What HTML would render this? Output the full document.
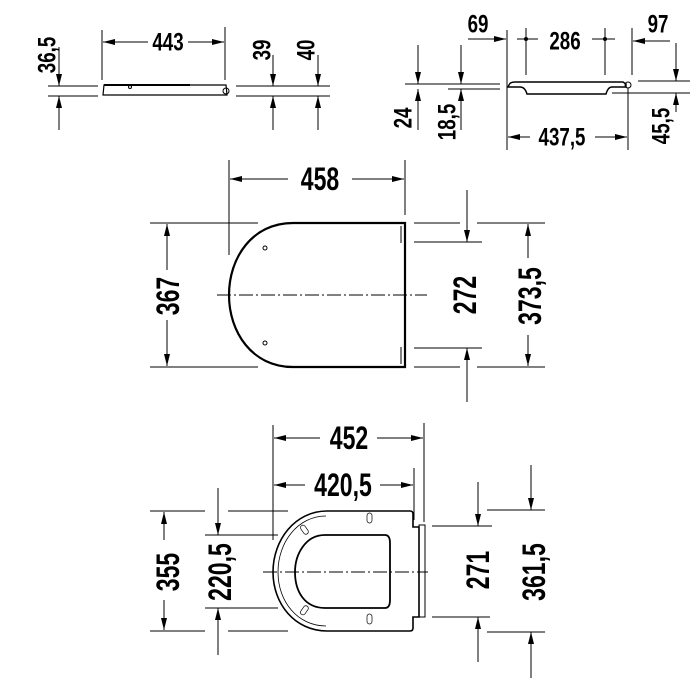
<!DOCTYPE html>
<html><head><meta charset="utf-8"><style>
html,body{margin:0;padding:0;background:#fff}
svg{display:block}
text{font-family:"Liberation Sans",sans-serif;font-weight:bold;fill:#000;text-anchor:middle;dominant-baseline:central}
</style></head><body>
<svg width="700" height="700" viewBox="0 0 700 700" xmlns="http://www.w3.org/2000/svg">
<defs>
<marker id="a" viewBox="0 0 12 6" refX="12" refY="3" markerWidth="12" markerHeight="6" markerUnits="userSpaceOnUse" orient="auto"><path d="M0,0 L12,3 L0,6 Z" fill="#000"/></marker>
</defs>
<g stroke="#000" stroke-width="1" fill="none">
<line x1="48" y1="86" x2="98" y2="86"/><line x1="48" y1="96" x2="98" y2="96"/>
<line x1="59" y1="47" x2="59" y2="86" marker-end="url(#a)"/><line x1="59" y1="130" x2="59" y2="96" marker-end="url(#a)"/>
<line x1="102" y1="30" x2="102" y2="80"/><line x1="225" y1="27" x2="225" y2="80"/>
<line x1="148" y1="42" x2="103" y2="42" marker-end="url(#a)"/><line x1="188" y1="42" x2="224" y2="42" marker-end="url(#a)"/>
<path d="M104,85 L226,85 L227,95 L103,95 Z" stroke-width="1.2"/>
<line x1="104" y1="85" x2="190" y2="85" stroke-width="2"/>
<circle cx="226" cy="91" r="3"/><circle cx="130" cy="87" r="1.5"/>
<line x1="236" y1="86" x2="330" y2="86"/><line x1="236" y1="96" x2="330" y2="96"/>
<line x1="273" y1="55" x2="273" y2="86" marker-end="url(#a)"/><line x1="273" y1="130" x2="273" y2="96" marker-end="url(#a)"/>
<line x1="318" y1="55" x2="318" y2="86" marker-end="url(#a)"/><line x1="318" y1="130" x2="318" y2="96" marker-end="url(#a)"/>
<line x1="507" y1="30" x2="507" y2="150"/><line x1="526" y1="28" x2="526" y2="75"/><line x1="605" y1="28" x2="605" y2="75"/>
<line x1="632" y1="28" x2="632" y2="75"/><line x1="628" y1="88" x2="628" y2="150"/>
<line x1="468" y1="39" x2="506" y2="39" marker-end="url(#a)"/>
<line x1="517" y1="39" x2="538" y2="39"/><line x1="592" y1="39" x2="615" y2="39"/>
<circle cx="526" cy="39" r="1.5" fill="#000"/><circle cx="605" cy="39" r="1.5" fill="#000"/>
<line x1="670" y1="41" x2="633" y2="41" marker-end="url(#a)"/>
<line x1="405" y1="84" x2="500" y2="84"/><line x1="448" y1="89" x2="500" y2="89"/>
<path d="M509,85 Q510,82 515,82 L623,82 L626,84 L626,87 L612,87 Q608,87 606,94 L527,94 Q525,87 520,87 L508,87 Z" stroke-width="1.4"/>
<circle cx="628" cy="85" r="3"/>
<line x1="418" y1="45" x2="418" y2="84" marker-end="url(#a)"/><line x1="418" y1="130" x2="418" y2="89" marker-end="url(#a)"/>
<line x1="461" y1="45" x2="461" y2="84" marker-end="url(#a)"/><line x1="461" y1="130" x2="461" y2="89" marker-end="url(#a)"/>
<line x1="638" y1="81" x2="690" y2="81"/><line x1="612" y1="93" x2="690" y2="93"/>
<line x1="676" y1="43" x2="676" y2="81" marker-end="url(#a)"/><line x1="676" y1="112" x2="676" y2="93" marker-end="url(#a)"/>
<line x1="530" y1="137" x2="508" y2="137" marker-end="url(#a)"/><line x1="595" y1="137" x2="627" y2="137" marker-end="url(#a)"/>
<line x1="229" y1="160" x2="229" y2="255"/><line x1="405" y1="160" x2="405" y2="215"/>
<line x1="288" y1="179" x2="230" y2="179" marker-end="url(#a)"/><line x1="352" y1="179" x2="404" y2="179" marker-end="url(#a)"/>
<path d="M405,223 L293,223 C252,223 229,258 229,295 C229,332 252,367 293,367 L405,367 Z" stroke-width="2.2"/>
<line x1="401" y1="226" x2="401" y2="243"/><line x1="401" y1="347" x2="401" y2="364"/>
<circle cx="265" cy="248" r="2"/><circle cx="265" cy="343" r="2"/>
<line x1="217" y1="295" x2="427" y2="295" stroke-dasharray="14,3,2,3"/>
<line x1="150" y1="223" x2="258" y2="223"/><line x1="150" y1="367" x2="258" y2="367"/>
<line x1="167" y1="270" x2="167" y2="224" marker-end="url(#a)"/><line x1="167" y1="320" x2="167" y2="366" marker-end="url(#a)"/>
<line x1="414" y1="223" x2="460" y2="223"/><line x1="414" y1="242" x2="482" y2="242"/>
<line x1="414" y1="348" x2="482" y2="348"/><line x1="414" y1="367" x2="460" y2="367"/>
<line x1="467" y1="190" x2="467" y2="242" marker-end="url(#a)"/><line x1="467" y1="402" x2="467" y2="348" marker-end="url(#a)"/>
<line x1="477" y1="223" x2="545" y2="223"/><line x1="477" y1="367" x2="545" y2="367"/>
<line x1="528" y1="258" x2="528" y2="224" marker-end="url(#a)"/><line x1="528" y1="335" x2="528" y2="366" marker-end="url(#a)"/>
<line x1="273" y1="425" x2="273" y2="540"/><line x1="424" y1="423" x2="424" y2="522"/><line x1="414" y1="468" x2="414" y2="520"/>
<line x1="320" y1="438" x2="274" y2="438" marker-end="url(#a)"/><line x1="377" y1="438" x2="423" y2="438" marker-end="url(#a)"/>
<line x1="305" y1="485" x2="274" y2="485" marker-end="url(#a)"/><line x1="380" y1="485" x2="413" y2="485" marker-end="url(#a)"/>
<path d="M410,511 L327,511 C295,511 273,540 273,572 C273,604 295,631 327,631 L410,631 Q413,631 413,628 L413,617 L419,617 L419,527 L413,527 L413,514 Q413,511 410,511 Z" stroke-width="1.6"/>
<path d="M326,516 C298,516 278,542 278,572 C278,602 298,626 326,626" stroke-width="0.8"/>
<rect x="419" y="525" width="6" height="92" stroke-width="1"/>
<path d="M385,535 L325,535 C305,535 295,555 295,572 C295,592 305,608 325,608 L385,608 Q390,608 390,600 L390,543 Q390,535 385,535 Z" stroke-width="1.8"/>
<rect x="367" y="513" width="5" height="10" rx="2.5" stroke-width="0.7"/><rect x="367" y="614" width="5" height="10" rx="2.5" stroke-width="0.7"/>
<rect x="302" y="525" width="5" height="10" rx="2.5" transform="rotate(-35 304 530)" stroke-width="0.7"/>
<rect x="302" y="605" width="5" height="10" rx="2.5" transform="rotate(35 304 610)" stroke-width="0.7"/>
<line x1="263" y1="572" x2="428" y2="572" stroke-dasharray="14,3,2,3"/>
<line x1="150" y1="511" x2="205" y2="511"/><line x1="228" y1="511" x2="288" y2="511"/>
<line x1="150" y1="631" x2="205" y2="631"/><line x1="228" y1="631" x2="288" y2="631"/>
<line x1="164" y1="540" x2="164" y2="512" marker-end="url(#a)"/><line x1="164" y1="600" x2="164" y2="630" marker-end="url(#a)"/>
<line x1="205" y1="535" x2="278" y2="535"/><line x1="205" y1="608" x2="278" y2="608"/>
<line x1="218" y1="488" x2="218" y2="535" marker-end="url(#a)"/><line x1="218" y1="655" x2="218" y2="608" marker-end="url(#a)"/>
<line x1="432" y1="526" x2="492" y2="526"/><line x1="432" y1="617" x2="490" y2="617"/>
<line x1="478" y1="482" x2="478" y2="526" marker-end="url(#a)"/><line x1="478" y1="662" x2="478" y2="617" marker-end="url(#a)"/>
<line x1="487" y1="510" x2="545" y2="510"/><line x1="487" y1="632" x2="545" y2="632"/>
<line x1="531" y1="465" x2="531" y2="510" marker-end="url(#a)"/><line x1="531" y1="678" x2="531" y2="632" marker-end="url(#a)"/>
</g>
<g font-size="25">
<text transform="translate(168,42) scale(0.75,1)">443</text>
<text transform="translate(47,55) rotate(-90) scale(0.75,1)">36,5</text>
<text transform="translate(262,50) rotate(-90) scale(0.75,1)">39</text>
<text transform="translate(306,50) rotate(-90) scale(0.75,1)">40</text>
<text transform="translate(478,24) scale(0.75,1)">69</text>
<text transform="translate(565,41) scale(0.75,1)">286</text>
<text transform="translate(658,24) scale(0.75,1)">97</text>
<text transform="translate(403,118) rotate(-90) scale(0.75,1)">24</text>
<text transform="translate(447,122) rotate(-90) scale(0.75,1)">18,5</text>
<text transform="translate(661,126) rotate(-90) scale(0.75,1)">45,5</text>
<text transform="translate(562,137) scale(0.75,1)">437,5</text>
</g>
<g font-size="32">
<text transform="translate(320,179) scale(0.72,1)">458</text>
<text transform="translate(168,296) rotate(-90) scale(0.72,1)">367</text>
<text transform="translate(465,295) rotate(-90) scale(0.72,1)">272</text>
<text transform="translate(530,296) rotate(-90) scale(0.72,1)">373,5</text>
<text transform="translate(349,438) scale(0.72,1)">452</text>
<text transform="translate(343,485) scale(0.72,1)">420,5</text>
<text transform="translate(168,572) rotate(-90) scale(0.72,1)">355</text>
<text transform="translate(220,572) rotate(-90) scale(0.72,1)">220,5</text>
<text transform="translate(478,570) rotate(-90) scale(0.72,1)">271</text>
<text transform="translate(534,572) rotate(-90) scale(0.72,1)">361,5</text>
</g>
</svg>
</body></html>
